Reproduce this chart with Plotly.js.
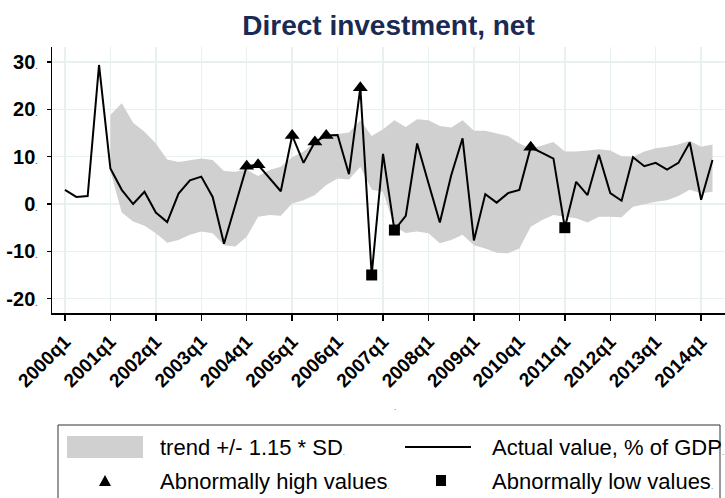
<!DOCTYPE html>
<html><head><meta charset="utf-8">
<script src="https://cdn.plot.ly/plotly-3.0.1.min.js"></script>
<style>html,body{margin:0;padding:0;background:#fff;}#chart{width:725px;height:498px;}</style>
</head><body><div id="chart"></div>
<script>
const quarters = [
 '2000q1','2000q2','2000q3','2000q4','2001q1','2001q2','2001q3','2001q4',
 '2002q1','2002q2','2002q3','2002q4','2003q1','2003q2','2003q3','2003q4',
 '2004q1','2004q2','2004q3','2004q4','2005q1','2005q2','2005q3','2005q4',
 '2006q1','2006q2','2006q3','2006q4','2007q1','2007q2','2007q3','2007q4',
 '2008q1','2008q2','2008q3','2008q4','2009q1','2009q2','2009q3','2009q4',
 '2010q1','2010q2','2010q3','2010q4','2011q1','2011q2','2011q3','2011q4',
 '2012q1','2012q2','2012q3','2012q4','2013q1','2013q2','2013q3','2013q4',
 '2014q1','2014q2'];
const actual = [
 3.0, 1.5, 1.7, 29.4, 7.5, 3.0, 0.0, 2.6,
 -1.8, -3.8, 2.2, 5.0, 5.8, 1.5, -8.4, -0.4,
 8.0, 8.3, 5.4, 2.7, 14.5, 8.7, 13.1, 14.5,
 14.6, 6.3, 24.6, -15.0, 10.6, -5.5, -2.5, 12.8,
 4.4, -3.9, 6.1, 13.9, -7.7, 2.1, 0.3, 2.3,
 3.0, 12.0, 10.8, 9.6, -5.0, 4.7, 1.9, 10.4,
 2.3, 0.7, 9.9, 8.0, 8.7, 7.3, 8.7, 13.0,
 0.9, 9.3];
const bandQuarters = quarters.slice(4);
const bandUpper = [
 18.8, 21.3, 17.2, 15.3, 12.8, 9.4, 8.9, 9.3, 9.6, 9.3, 7.0, 6.8,
 7.3, 5.9, 7.2, 7.9, 9.9, 11.1, 13.0, 14.1, 14.8, 15.1, 17.7, 14.4,
 15.8, 17.7, 16.3, 17.9, 17.7, 16.5, 16.2, 17.7, 15.5, 15.5, 14.9, 14.4,
 12.8, 11.7, 12.4, 13.1, 11.1, 11.1, 11.3, 11.6, 11.3, 10.1, 10.0, 11.1,
 11.8, 12.1, 12.6, 13.4, 12.1, 12.6];
const bandLower = [
 7.0, -1.8, -3.7, -4.6, -6.2, -8.2, -7.6, -6.5, -5.8, -6.2, -8.7, -9.0,
 -6.9, -2.7, -2.3, -2.5, 0.1, 0.8, 1.9, 4.0, 5.4, 5.2, 7.9, 3.0,
 2.6, -4.8, -6.1, -5.8, -6.2, -8.3, -7.6, -6.5, -8.7, -9.4, -10.3, -10.4,
 -9.4, -4.8, -3.4, -2.3, -2.7, -3.0, -3.9, -2.7, -2.7, -2.8, -0.6, 0.0,
 0.5, 0.8, 1.7, 3.0, 2.3, 2.6];
const highQuarters = ['2004q1','2004q2','2005q1','2005q3','2005q4','2006q3','2010q2'];
const lowQuarters = ['2006q4','2007q2','2011q1'];
const xTickLabels = ['2000q1','2001q1','2002q1','2003q1','2004q1','2005q1','2006q1',
 '2007q1','2008q1','2009q1','2010q1','2011q1','2012q1','2013q1','2014q1'];
const yTickValues = [-20, -10, 0, 10, 20, 30];

const dot = '<span style="font-size:8px;color:#555">.</span>';
const valueAt = q => actual[quarters.indexOf(q)];

// layout geometry (pixels)
const W = 725, H = 498, L = 52, R = 0, T = 47, B = 185;
const pw = W - L - R, ph = H - T - B;
const px = x => (x - L) / pw;
const py = y => (H - B - y) / ph;

const FONT = '"Liberation Sans"';

const traces = [
 {x: bandQuarters, y: bandLower, type: 'scatter', mode: 'lines',
  line: {width: 0, color: '#d0d0d0'}, showlegend: false, hoverinfo: 'skip'},
 {x: bandQuarters, y: bandUpper, type: 'scatter', mode: 'lines', fill: 'tonexty',
  fillcolor: '#d0d0d0', line: {width: 0, color: '#d0d0d0'}, showlegend: false, hoverinfo: 'skip'},
 {x: quarters, y: actual, type: 'scatter', mode: 'lines',
  line: {color: '#000', width: 2}, showlegend: false},
 {x: highQuarters, y: highQuarters.map(valueAt), type: 'scatter', mode: 'markers',
  marker: {symbol: 'triangle-up', size: 13, color: '#000'}, showlegend: false},
 {x: lowQuarters, y: lowQuarters.map(valueAt), type: 'scatter', mode: 'markers',
  marker: {symbol: 'square', size: 11, color: '#000'}, showlegend: false}
];

const legFont = {family: FONT, size: 22, color: '#000'};
const ann = (x, y, text, extra) => Object.assign({xref: 'paper', yref: 'paper', x: px(x), y: py(y),
  text: text, showarrow: false, xanchor: 'left', yanchor: 'middle', font: legFont}, extra || {});

const layout = {
 width: W, height: H,
 margin: {l: L, r: R, t: T, b: B},
 paper_bgcolor: '#fff', plot_bgcolor: '#fff',
 font: {family: FONT},
 title: {text: 'Direct investment, net', font: {family: FONT, size: 28, color: '#1a2a52', weight: 'bold'},
   x: 0.5, xref: 'paper', xanchor: 'center', y: 1 - 25 / H, yref: 'container', yanchor: 'middle'},
 xaxis: {type: 'category', categoryorder: 'array', categoryarray: quarters,
   range: [-1.14, 58.1], tickmode: 'array', tickvals: xTickLabels, ticktext: xTickLabels,
   tickangle: -45, tickfont: {family: FONT, size: 19, color: '#000', weight: 'bold'},
   showgrid: true, gridcolor: '#e8f0f2', gridwidth: 1.5,
   showline: true, linecolor: '#000', linewidth: 2,
   ticks: 'outside', ticklen: 6, tickwidth: 1.5, tickcolor: '#000', ticklabelstandoff: 2,
   zeroline: false, fixedrange: true},
 yaxis: {range: [-23.04, 33.2], tickmode: 'array', tickvals: yTickValues,
   ticktext: yTickValues.map(v => String(v) + dot),
   tickfont: {family: FONT, size: 20, color: '#000', weight: 'bold'},
   showgrid: true, gridcolor: '#e8f0f2', gridwidth: 1.5,
   showline: true, linecolor: '#000', linewidth: 1.5,
   ticks: 'outside', ticklen: 4, tickwidth: 1.5, tickcolor: '#000', ticklabelstandoff: 5,
   zeroline: false, fixedrange: true},
 shapes: [
  {type: 'rect', xref: 'paper', yref: 'paper', x0: px(58), x1: px(720), y0: py(425), y1: py(520),
   line: {color: '#333', width: 1}, fillcolor: 'rgba(0,0,0,0)'},
  {type: 'rect', xref: 'paper', yref: 'paper', x0: px(67), x1: px(143), y0: py(436), y1: py(458),
   line: {width: 0}, fillcolor: '#d0d0d0'},
  {type: 'line', xref: 'paper', yref: 'paper', x0: px(405), x1: px(471), y0: py(447), y1: py(447),
   line: {color: '#000', width: 2}},
  {type: 'path', xref: 'paper', yref: 'paper',
   path: 'M' + px(99) + ',' + py(486) + ' L' + px(111) + ',' + py(486) + ' L' + px(105) + ',' + py(475) + ' Z',
   line: {width: 0}, fillcolor: '#000'},
  {type: 'rect', xref: 'paper', yref: 'paper', x0: px(436), x1: px(446), y0: py(475), y1: py(486),
   line: {width: 0}, fillcolor: '#000'}
 ],
 annotations: [
  ann(158, 447, 'trend +/- 1.15 * SD' + dot),
  ann(490, 447, 'Actual value, % of GDP' + dot),
  ann(158, 481, 'Abnormally high values' + dot),
  ann(490, 481, 'Abnormally low values' + dot),
  {xref: 'paper', yref: 'paper', x: px(395), y: py(407), text: '.', showarrow: false,
   font: {family: FONT, size: 8, color: '#444'}, xanchor: 'center', yanchor: 'middle'}
 ]
};

Plotly.newPlot('chart', traces, layout, {staticPlot: true, displayModeBar: false});
</script>
</body></html>
